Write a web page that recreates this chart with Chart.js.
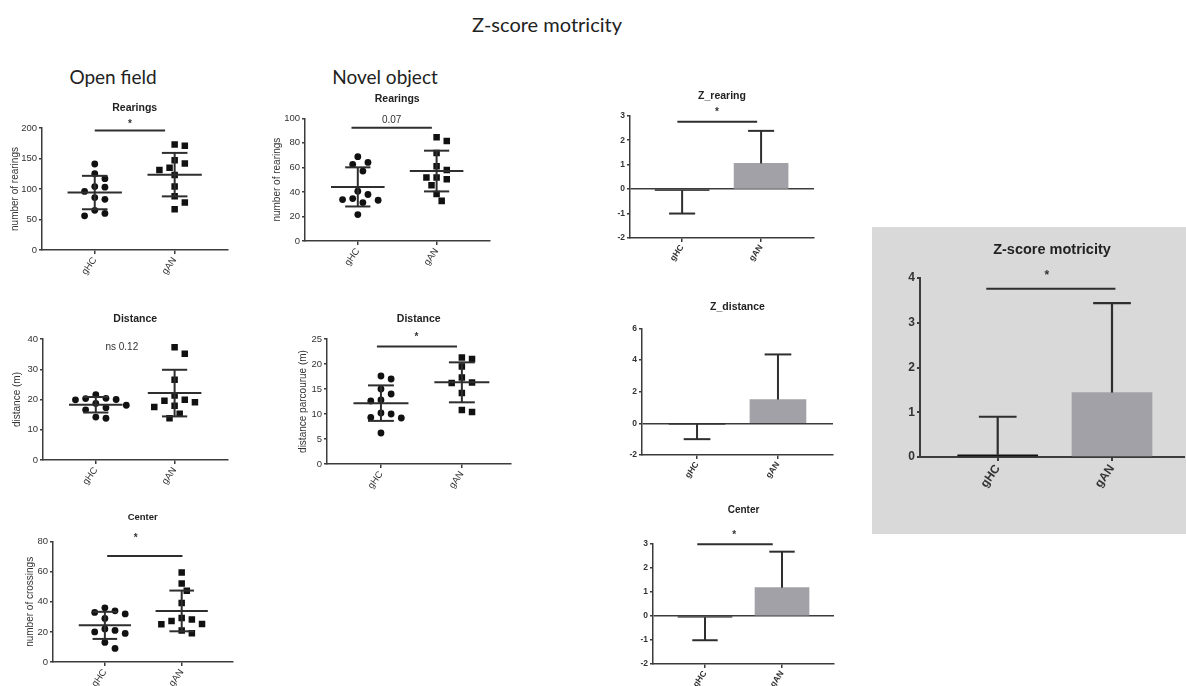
<!DOCTYPE html>
<html>
<head>
<meta charset="utf-8">
<script src="https://cdn.jsdelivr.net/npm/chart.js@4.4.1/dist/chart.umd.min.js"></script>
<style>
  body { margin: 0; width: 1186px; height: 686px; background: #fff; position: relative; overflow: hidden; }
  .head { position: absolute; transform: translate(-50%, -50%); white-space: nowrap; color: #222; font-family: Lato, "Open Sans", sans-serif; }
  canvas { position: absolute; }
  #zbox { position: absolute; left: 872px; top: 227px; width: 314px; height: 307px; background: #d9d9d9; }
</style>
</head>
<body>
<div class="head" style="left:547px; top:24px; font-size:20px">Z-score motricity</div>
<div class="head" style="left:113px; top:76px; font-size:19px">Open field</div>
<div class="head" style="left:385px; top:76px; font-size:19px">Novel object</div>
<div id="zbox"></div>

<script>
const groups = ['gHC', 'gAN'];

// open field, one value per animal
const ofRearHC = [141, 125, 117, 104, 103, 96, 86, 83, 65, 60, 56];
const ofRearAN = [173, 171, 147, 142, 135, 131, 123, 104, 88, 78, 67];
const ofDistHC = [21.6, 20.4, 20.3, 20.0, 19.9, 18.7, 18.1, 17.3, 16.6, 14.2, 13.8];
const ofDistAN = [37.3, 35.1, 26.5, 21.3, 19.9, 19.6, 19.1, 17.9, 17.5, 15.3, 13.8];
const ofCenterHC = [36, 34, 33, 32, 29, 22, 21, 20, 19, 13, 9];
const ofCenterAN = [59.5, 52.2, 47.4, 39.2, 29.3, 28.2, 27.3, 25.3, 25.1, 20.9, 19.2];

// novel object
const noRearHC = [68.7, 64, 62.4, 57, 40.6, 37.9, 34.6, 33.8, 33.2, 31.3, 21.5];
const noRearAN = [84.5, 81.5, 71.7, 61, 57.8, 51.8, 51.8, 50.4, 45.5, 38.4, 32.7];
const noDistHC = [17.6, 17.0, 15.0, 14.0, 12.8, 12.6, 10.2, 10.0, 9.3, 9.2, 6.2];
const noDistAN = [21.3, 21.0, 19.5, 17.3, 16.3, 16.2, 14.2, 10.8, 10.4];

// z-scores: mean and SD per group
const zRearMean = [-0.05, 1.05];
const zRearSD = [0.95, 1.33];
const zDistMean = [-0.05, 1.5];
const zDistSD = [0.95, 2.85];
const zCenterMean = [-0.05, 1.18];
const zCenterSD = [0.96, 1.5];
const zMotMean = [0.05, 1.44];
const zMotSD = [0.85, 2.0];

const FONT = "'Liberation Sans', Arial, sans-serif";
const AX = '#3c3c3c';
const BAR = ['#111111', '#a1a1a7'];
Chart.defaults.font.family = FONT;

function mean(a) { return a.reduce((s, v) => s + v, 0) / a.length; }
function sd(a) {
    const m = mean(a);
    return Math.sqrt(a.reduce((s, v) => s + (v - m) * (v - m), 0) / (a.length - 1));
}

// nudge points sideways so the markers don't sit on top of each other
function swarm(vals, center, pxX, pxY, size) {
    const placed = [];
    const out = [];
    const order = vals.map((v, i) => i).sort((a, b) => vals[b] - vals[a]);
    order.forEach(i => {
        const py = vals[i] * pxY;
        let off = 0;
        for (let k = 0; k < 40; k++) {
            const cand = (k % 2 ? 1 : -1) * Math.ceil(k / 2) * size * 0.6;
            if (placed.every(p => Math.hypot(p.x - cand, p.y - py) >= size)) { off = cand; break; }
        }
        placed.push({ x: off, y: py });
        out[i] = { x: center + off / pxX, y: vals[i] };
    });
    return out;
}

// mean/SD whiskers, error bars and significance marks
const extras = {
    id: 'extras',
    afterDatasetsDraw(chart) {
        const o = chart.canvas.extras;
        if (!o) return;
        const { ctx } = chart;
        const x = chart.scales.x, y = chart.scales.y;
        ctx.save();
        ctx.strokeStyle = '#2e2e2e';
        ctx.lineWidth = o.lw || 2;
        const seg = (x0, y0, x1, y1) => {
            ctx.beginPath();
            ctx.moveTo(x.getPixelForValue(x0), y.getPixelForValue(y0));
            ctx.lineTo(x.getPixelForValue(x1), y.getPixelForValue(y1));
            ctx.stroke();
        };
        (o.stats || []).forEach((vals, i) => {
            const m = mean(vals), s = sd(vals);
            seg(i - 0.34, m, i + 0.34, m);
            seg(i, m - s, i, m + s);
            seg(i - 0.16, m + s, i + 0.16, m + s);
            seg(i - 0.16, m - s, i + 0.16, m - s);
        });
        (o.means || []).forEach((m, i) => {
            const end = m + Math.sign(m) * o.sds[i];
            seg(i, m, i, end);
            seg(i - 0.165, end, i + 0.165, end);
        });
        if (o.sig) {
            const s = o.sig;
            if (s.x1 !== undefined) seg(s.x0, s.y, s.x1, s.y);
            ctx.fillStyle = '#333';
            ctx.font = s.font;
            ctx.textAlign = 'center';
            ctx.textBaseline = 'middle';
            ctx.fillText(s.text, x.getPixelForValue(s.tx), y.getPixelForValue(s.ty));
        }
        ctx.restore();
    }
};

function makeChart(p) {
    const ts = p.titleSize;
    const left = Math.round(p.box.l - p.yW);
    const top = Math.round(p.titleY - 0.6 * ts - 2);
    const xH = p.xH || 30;
    const lw = p.lw || 1.5;
    const cv = document.createElement('canvas');
    cv.width = Math.round(p.box.r - left + 4);
    cv.height = Math.round(p.box.b - top + xH + 2);
    cv.style.left = left + 'px';
    cv.style.top = top + 'px';
    cv.extras = p.extras;
    document.body.appendChild(cv);

    const tickFont = { family: FONT, size: p.tickSize || 9.5, weight: p.bold ? 'bold' : 'normal' };
    const zeroLine = p.type === 'bar';

    return new Chart(cv, {
        type: p.type,
        data: { datasets: p.datasets },
        options: {
            responsive: false,
            animation: false,
            layout: { padding: { left: 0, right: 4, top: 0, bottom: 2 } },
            plugins: {
                legend: { display: false },
                tooltip: { enabled: false },
                title: {
                    display: true,
                    text: p.title,
                    fullSize: false,
                    color: '#222',
                    font: { family: FONT, size: ts, weight: 'bold', lineHeight: 1.2 },
                    padding: { top: 2, bottom: p.box.t - top - 2 - 1.2 * ts }
                }
            },
            scales: {
                x: {
                    type: 'linear',
                    min: p.xMin,
                    max: p.xMax,
                    offset: false,
                    afterBuildTicks: s => { s.ticks = [{ value: 0 }, { value: 1 }]; },
                    afterFit: s => { s.height = xH; },
                    grid: { display: true, offset: false, drawOnChartArea: false, tickLength: 4, color: AX, lineWidth: lw },
                    border: { display: true, color: AX, width: lw },
                    ticks: {
                        callback: v => groups[v],
                        minRotation: 55, maxRotation: 55,
                        autoSkip: false,
                        font: tickFont, color: '#333', padding: 1
                    }
                },
                y: {
                    min: p.yMin,
                    max: p.yMax,
                    afterFit: s => { s.width = p.yW; },
                    ticks: { stepSize: p.step, font: tickFont, color: '#333', padding: 2 },
                    grid: {
                        display: true,
                        drawOnChartArea: zeroLine,
                        tickLength: 3,
                        color: c => (!zeroLine || c.tick.value === 0) ? AX : 'rgba(0,0,0,0)',
                        tickColor: AX,
                        lineWidth: lw
                    },
                    border: { display: true, color: AX, width: lw },
                    title: p.yTitle ? {
                        display: true,
                        text: p.yTitle,
                        color: '#333',
                        font: { family: FONT, size: 10, lineHeight: 1.2 },
                        padding: { top: p.yTitleX - left - 6, bottom: 0 }
                    } : { display: false }
                }
            }
        },
        plugins: [extras]
    });
}

function dotPanel(p, hc, an) {
    const pxX = (p.box.r - p.box.l) / (p.xMax - p.xMin);
    const pxY = (p.box.b - p.box.t) / (p.yMax - p.yMin);
    p.type = 'scatter';
    p.datasets = [
        { data: swarm(hc, 0, pxX, pxY, 8.5), pointStyle: 'circle', pointRadius: 3.4, backgroundColor: '#111', borderWidth: 0 },
        { data: swarm(an, 1, pxX, pxY, 8.5), pointStyle: 'rect', pointRadius: 4.6, backgroundColor: '#111', borderWidth: 0 }
    ];
    p.extras = Object.assign({ stats: [hc, an] }, p.extras || {});
    return makeChart(p);
}

function barPanel(p, means, sds) {
    p.type = 'bar';
    p.bold = true;
    p.datasets = [{
        data: means.map((m, i) => ({ x: i, y: m })),
        backgroundColor: BAR,
        borderWidth: 0,
        barThickness: p.barW
    }];
    p.extras = Object.assign({ means: means, sds: sds }, p.extras || {});
    return makeChart(p);
}

const star = 'bold 10px ' + FONT;
const small = '10px ' + FONT;

// Open field
dotPanel({
    box: { l: 42, t: 128, r: 228, b: 250 }, yW: 38, yTitleX: 15,
    title: 'Rearings', titleY: 108, titleSize: 10.5,
    yMin: 0, yMax: 200, step: 50, xMin: -0.66, xMax: 1.66,
    yTitle: 'number of rearings',
    extras: { sig: { x0: 0, x1: 0.88, y: 196, text: '*', tx: 0.44, ty: 206, font: star } }
}, ofRearHC, ofRearAN);

dotPanel({
    box: { l: 43, t: 339, r: 228, b: 460 }, yW: 39, yTitleX: 17,
    title: 'Distance', titleY: 319, titleSize: 10.5,
    yMin: 0, yMax: 40, step: 10, xMin: -0.67, xMax: 1.67,
    yTitle: 'distance (m)',
    extras: { sig: { text: 'ns 0.12', tx: 0.33, ty: 37.4, font: small } }
}, ofDistHC, ofDistAN);

dotPanel({
    box: { l: 53, t: 541.7, r: 233, b: 662 }, yW: 49, yTitleX: 30,
    title: 'Center', titleY: 518, titleSize: 9.5,
    yMin: 0, yMax: 80, step: 20, xMin: -0.675, xMax: 1.66,
    yTitle: 'number of crossings',
    extras: { sig: { x0: 0.03, x1: 1.01, y: 70.5, text: '*', tx: 0.4, ty: 82, font: star } }
}, ofCenterHC, ofCenterAN);

// Novel object
dotPanel({
    box: { l: 305, t: 118.3, r: 490, b: 240.7 }, yW: 37, yTitleX: 277,
    title: 'Rearings', titleY: 99, titleSize: 10.5,
    yMin: 0, yMax: 100, step: 20, xMin: -0.67, xMax: 1.67,
    yTitle: 'number of rearings',
    extras: { sig: { x0: -0.08, x1: 0.94, y: 92.4, text: '0.07', tx: 0.43, ty: 98.5, font: small } }
}, noRearHC, noRearAN);

dotPanel({
    box: { l: 327, t: 339, r: 511, b: 464.3 }, yW: 35, yTitleX: 303,
    title: 'Distance', titleY: 319, titleSize: 10.5,
    yMin: 0, yMax: 25, step: 5, xMin: -0.667, xMax: 1.6,
    yTitle: 'distance parcourue (m)',
    extras: { sig: { x0: -0.05, x1: 0.94, y: 23.5, text: '*', tx: 0.44, ty: 25.3, font: star } }
}, noDistHC, noDistAN);

// z-scores
barPanel({
    box: { l: 630, t: 115.7, r: 814, b: 238.3 }, yW: 20,
    title: 'Z_rearing', titleY: 96, titleSize: 10.5, tickSize: 8.5,
    yMin: -2, yMax: 3, step: 1, xMin: -0.66, xMax: 1.67, barW: 54,
    extras: { sig: { x0: -0.06, x1: 0.95, y: 2.75, text: '*', tx: 0.44, ty: 3.15, font: star } }
}, zRearMean, zRearSD);

barPanel({
    box: { l: 642, t: 328.3, r: 833, b: 455.3 }, yW: 20,
    title: 'Z_distance', titleY: 307, titleSize: 10.5, tickSize: 8.5,
    yMin: -2, yMax: 6, step: 2, xMin: -0.68, xMax: 1.68, barW: 56
}, zDistMean, zDistSD);

barPanel({
    box: { l: 653, t: 544, r: 834, b: 664 }, yW: 20,
    title: 'Center', titleY: 510, titleSize: 10, tickSize: 8.5,
    yMin: -2, yMax: 3, step: 1, xMin: -0.675, xMax: 1.675, barW: 54,
    extras: { sig: { x0: -0.1, x1: 0.88, y: 2.99, text: '*', tx: 0.38, ty: 3.38, font: star } }
}, zCenterMean, zCenterSD);

barPanel({
    box: { l: 920, t: 278, r: 1184, b: 457 }, yW: 25, xH: 50, lw: 2,
    title: 'Z-score motricity', titleY: 250, titleSize: 14.5, tickSize: 12,
    yMin: 0, yMax: 4, step: 1, xMin: -0.68, xMax: 1.63, barW: 80,
    extras: { lw: 2.2, sig: { x0: -0.1, x1: 1.03, y: 3.76, text: '*', tx: 0.43, ty: 4.05, font: 'bold 12px ' + FONT } }
}, zMotMean, zMotSD);
</script>
</body>
</html>
